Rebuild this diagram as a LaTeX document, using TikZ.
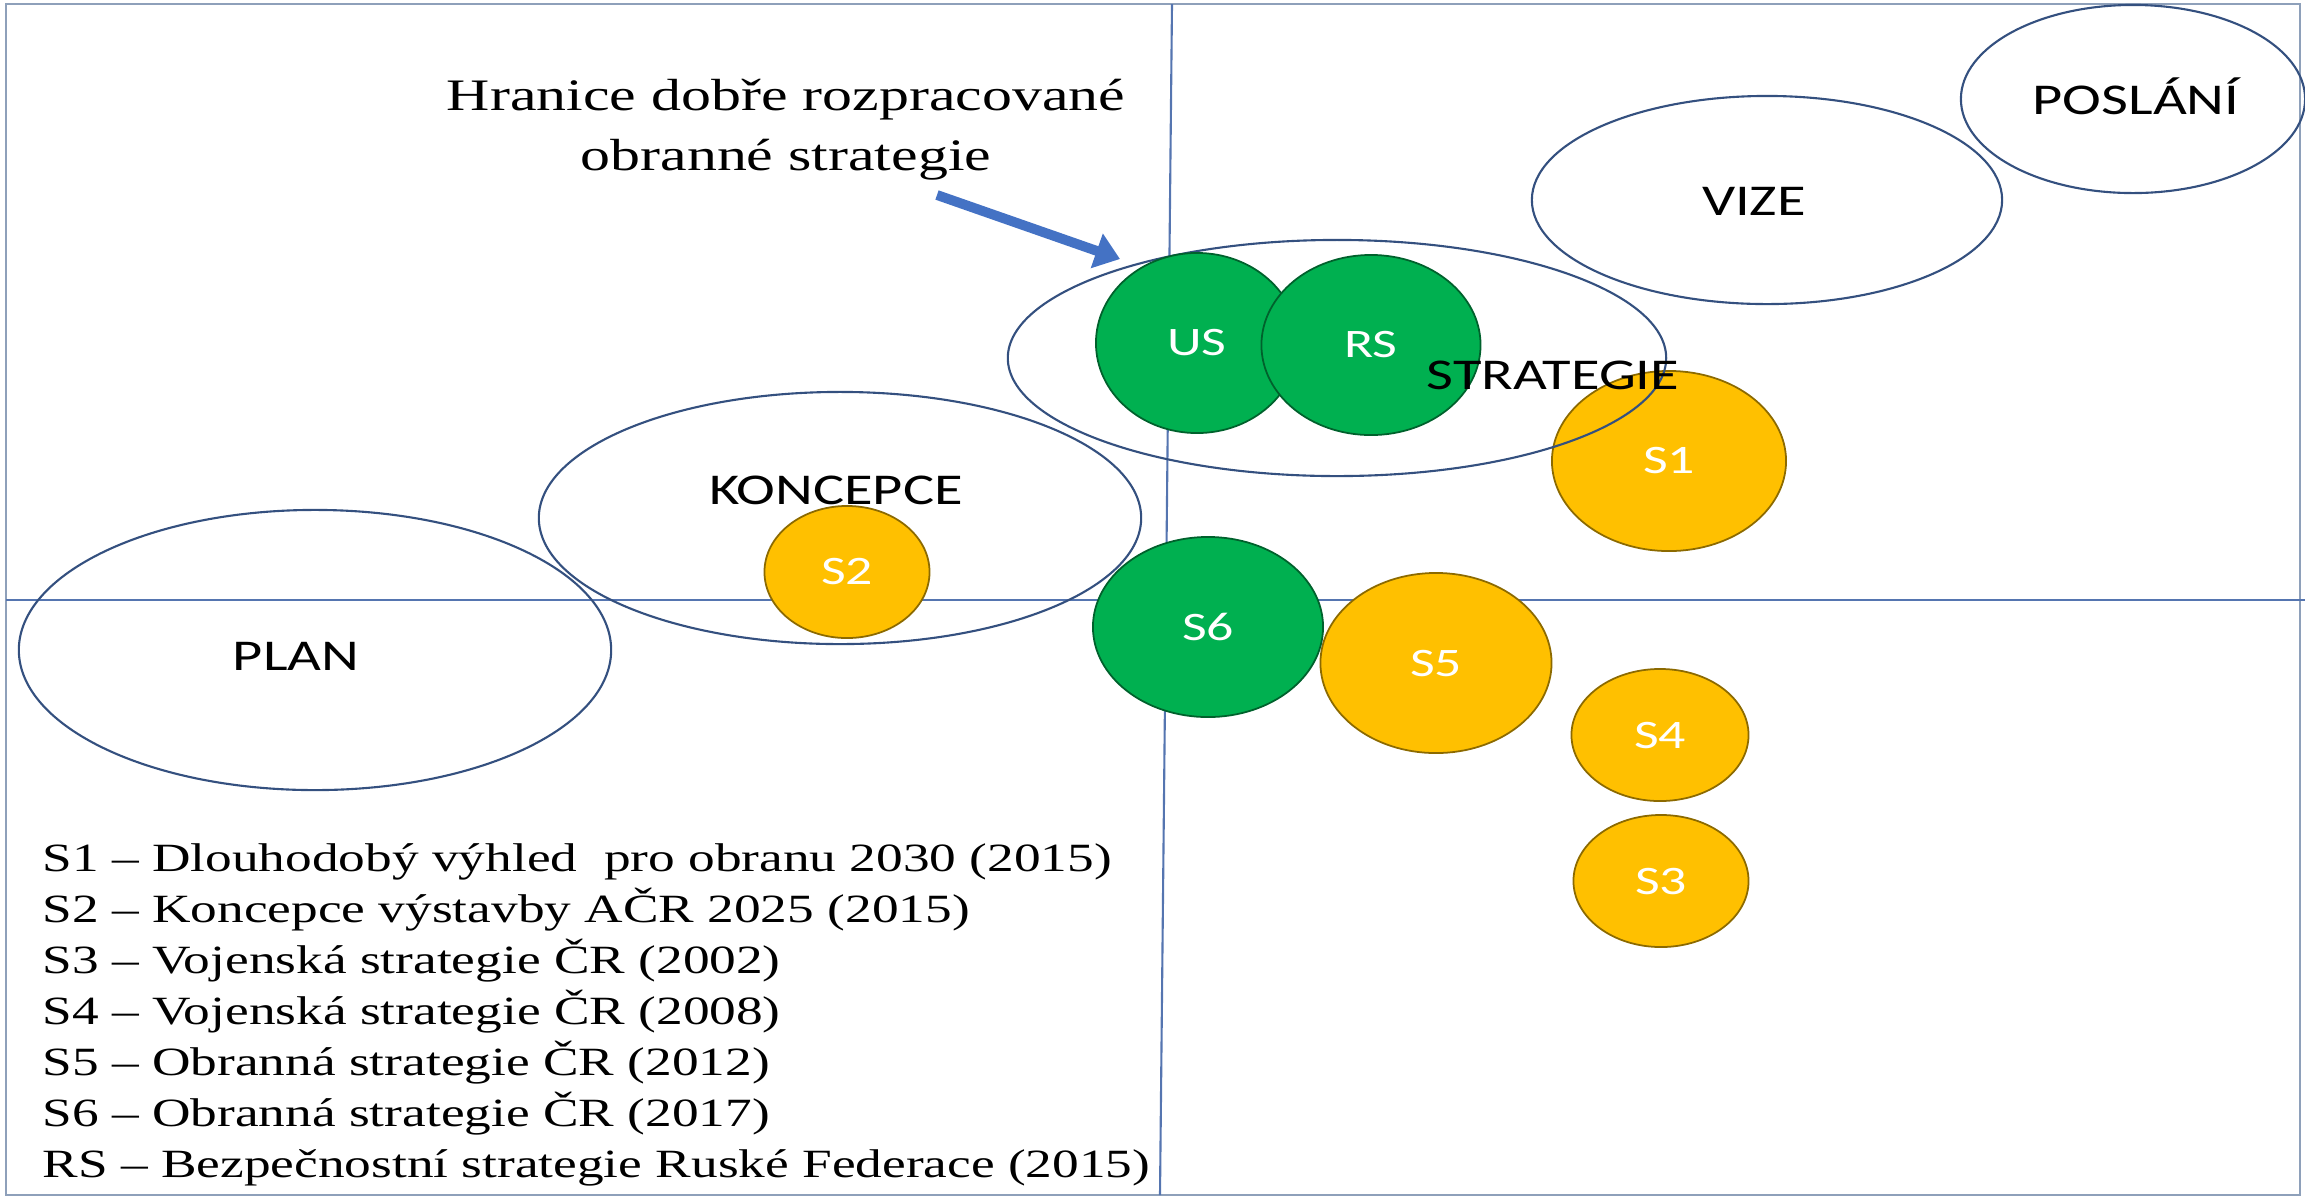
\documentclass[tikz,border=0pt]{standalone}
\usepackage{fontspec}
\setmainfont{Liberation Serif}[FakeStretch=1.33]
\newfontfamily\calibri{Carlito}[FakeStretch=1.33]
\usetikzlibrary{shapes.geometric,arrows.meta}
\definecolor{framegray}{HTML}{8EA0BA}
\definecolor{axisblue}{HTML}{5575B0}
\definecolor{rimblue}{HTML}{34507F}
\definecolor{offgreen}{HTML}{00B050}
\definecolor{offgold}{HTML}{FFC000}
\definecolor{arrowblue}{HTML}{4472C4}
\tikzset{
  field/.style={draw=rimblue, line width=0.6pt, ellipse, inner sep=0pt},
  fieldname/.style={inner sep=0pt, font=\calibri\fontsize{12.5}{15}\selectfont},
  doc/.style={ellipse, inner sep=0pt, draw=#1!55!black, fill=#1, line width=0.5pt,
    text=white, font=\calibri\fontsize{11.5}{14}\selectfont},
  legend/.style={anchor=base west, inner sep=0pt, font=\fontsize{11.4}{14}\selectfont},
}

\begin{document}
\begin{tikzpicture}[x=0.01cm, y=-0.01cm]
    \useasboundingbox (0, 0) rectangle (2305, 1196);
    \draw [framegray, line width=0.8pt] (6, 4) rectangle (2300, 1195);
    \draw [axisblue, line width=0.6pt] (6, 600) -- (2305, 600);
    \draw [axisblue, line width=0.6pt] (1172, 4) -- (1160, 1195);

    \node [field, minimum width=5.92cm, minimum height=2.80cm] (plan) at (315, 650) {};
    \node [field, minimum width=6.02cm, minimum height=2.52cm] (koncepce) at (840, 518) {};
    \node [field, minimum width=4.70cm, minimum height=2.08cm] (vize) at (1767, 200) {};
    \node [field, minimum width=3.44cm, minimum height=1.88cm] (poslani) at (2133, 99) {};

    \node [doc=offgold, minimum width=2.34cm, minimum height=1.80cm] (s1) at (1669, 461) {S1};
    \node [field, minimum width=6.58cm, minimum height=2.36cm] (strategie) at (1337, 358) {};
    \node [doc=offgreen, minimum width=2.02cm, minimum height=1.80cm] (us) at (1197, 343) {US};
    \node [doc=offgreen, minimum width=2.19cm, minimum height=1.80cm] (rs) at (1371, 345) {RS};
    \node [doc=offgold, minimum width=1.65cm, minimum height=1.32cm] (s2) at (847, 572) {S2};
    \node [doc=offgold, minimum width=1.75cm, minimum height=1.32cm] (s3) at (1661, 881) {S3};
    \node [doc=offgold, minimum width=1.77cm, minimum height=1.32cm] (s4) at (1660, 735) {S4};
    \node [doc=offgold, minimum width=2.31cm, minimum height=1.80cm] (s5) at (1436, 663) {S5};
    \node [doc=offgreen, minimum width=2.30cm, minimum height=1.80cm] (s6) at (1208, 627) {S6};

    \node [fieldname] (planname) at (296, 656) {PLAN};
    \node [fieldname] (koncepcename) at (836, 490) {KONCEPCE};
    \node [fieldname] (strategiename) at (1553, 375) {STRATEGIE};
    \node [fieldname] (vizename) at (1754, 201) {VIZE};
    \node [fieldname] (poslaniname) at (2136, 96) {POSLÁNÍ};

    % hranice
    \node [align=center, font=\fontsize{12.8}{17.07}\selectfont] (hranice) at (786, 130)
        {Hranice dobře rozpracované\\obranné strategie};
    \coordinate (arrowtail) at (937, 195);
    \coordinate (arrowtip) at (1120, 259);
    \draw [arrowblue, line width=2.8pt, -{Triangle[length=7pt, width=10pt]}] (arrowtail) -- (arrowtip);

    % legenda
    \foreach \txt [count=\i] in {S1 – Dlouhodobý výhled\ \ pro obranu 2030 (2015),
        S2 – Koncepce výstavby AČR 2025 (2015),
        S3 – Vojenská strategie ČR (2002),
        S4 – Vojenská strategie ČR (2008),
        S5 – Obranná strategie ČR (2012),
        S6 – Obranná strategie ČR (2017),
        RS – Bezpečnostní strategie Ruské Federace (2015)}
        \node [legend] (leg\i) at (42, 820 + 51 * \i) {\txt};
\end{tikzpicture}
\end{document}
